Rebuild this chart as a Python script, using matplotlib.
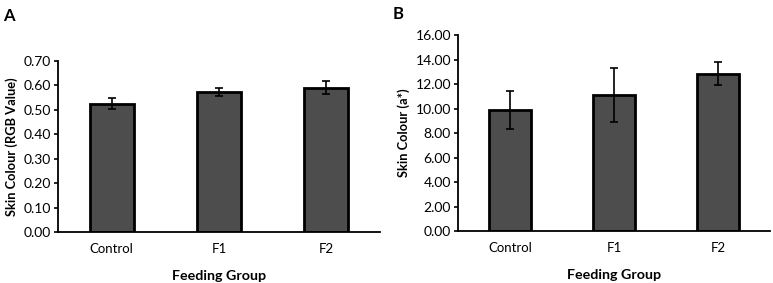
import matplotlib
matplotlib.use("Agg")
import matplotlib.pyplot as plt

plt.rcParams['font.family'] = ['Lato', 'DejaVu Sans']

groups = ["Control", "F1", "F2"]
rgb_mean = [0.525, 0.572, 0.591]
rgb_err = [0.022, 0.017, 0.027]
a_mean = [9.85, 11.07, 12.84]
a_err = [1.55, 2.2, 0.95]

fig = plt.figure(figsize=(7.73, 2.83), dpi=100)
ax1 = fig.add_axes([0.075, 0.180, 0.4166, 0.6042])
ax2 = fig.add_axes([0.5925, 0.1837, 0.4036, 0.6926])

def style(ax, ymax, step, ylabel):
    x = range(len(groups))
    ax.set_xlim(-0.5, 2.5)
    ax.set_ylim(0, ymax)
    ax.set_yticks([i * step for i in range(int(round(ymax / step)) + 1)])
    ax.yaxis.set_major_formatter(matplotlib.ticker.FormatStrFormatter('%.2f'))
    ax.set_xticks(list(x))
    ax.set_xticklabels(groups)
    ax.tick_params(axis='x', length=0, pad=8, labelsize=9.5)
    ax.tick_params(axis='y', length=3, width=1.2, labelsize=10, pad=2)
    for s in ['top', 'right']:
        ax.spines[s].set_visible(False)
    for s in ['left', 'bottom']:
        ax.spines[s].set_linewidth(1.3)
    ax.set_ylabel(ylabel, fontsize=9.3, fontweight='bold')
    ax.set_xlabel("Feeding Group", fontsize=10.3, fontweight='bold', labelpad=11)

ax1.bar(groups, rgb_mean, width=0.41, color='#4d4d4d', edgecolor='black', linewidth=2,
        yerr=rgb_err, capsize=3, error_kw={'elinewidth': 1.2, 'capthick': 1.2})
style(ax1, 0.70, 0.10, "Skin Colour (RGB Value)")

ax2.bar(groups, a_mean, width=0.41, color='#4d4d4d', edgecolor='black', linewidth=2,
        yerr=a_err, capsize=3, error_kw={'elinewidth': 1.2, 'capthick': 1.2})
style(ax2, 16.0, 2.0, "Skin Colour (a*)")

fig.text(0.004, 0.97, "A", fontsize=12, fontweight='bold', va='top')
fig.text(0.508, 0.98, "B", fontsize=12, fontweight='bold', va='top')

fig.savefig("out.png", dpi=100)
